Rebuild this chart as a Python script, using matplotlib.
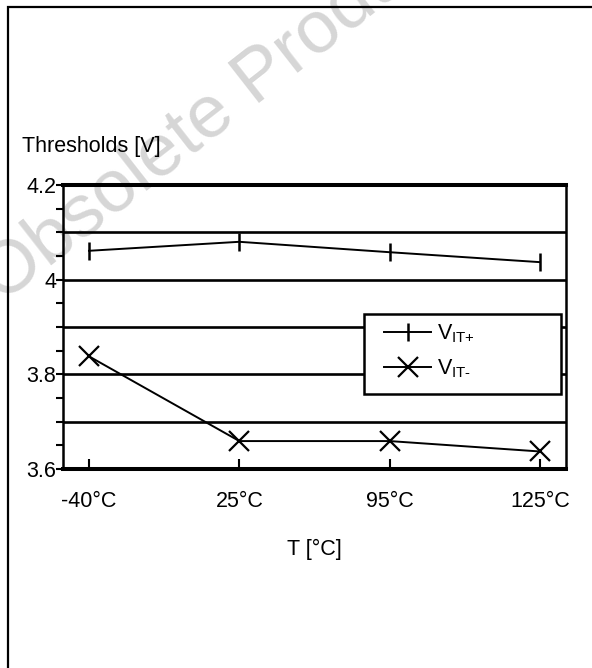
import numpy as np
import matplotlib.pyplot as plt
from matplotlib.patches import Rectangle
from matplotlib.ticker import MultipleLocator

plt.rcParams['font.family'] = ['Liberation Sans', 'DejaVu Sans']
plt.rcParams['mathtext.fontset'] = 'custom'
plt.rcParams['mathtext.rm'] = 'Liberation Sans'
plt.rcParams['mathtext.it'] = 'Liberation Sans'

# data
temps = ['-40°C', '25°C', '95°C', '125°C']
v_it_plus = [4.061, 4.080, 4.058, 4.037]
v_it_minus = [3.838, 3.659, 3.659, 3.637]
y_ticks = [3.6, 3.8, 4.0, 4.2]
y_ticklabels = ['3.6', '3.8', '4', '4.2']

W, H = 592, 668
fig = plt.figure(figsize=(W / 100, H / 100), dpi=100)

# watermark behind everything
fig.text(2 / W, 1 - 304 / H, 'Obsolete Product', fontsize=54, color='#d6d6d6',
         rotation=38, rotation_mode='anchor', ha='left', va='baseline', zorder=-5)

# outer frame (cut off by the picture edges)
fig.patches.append(Rectangle((8 / W, -0.1), 1.2, 1 - 7 / H + 0.1, transform=fig.transFigure,
                             fill=False, lw=1.6, ec='black', zorder=-1))

ax = fig.add_axes([63 / W, 1 - 469 / H, (566 - 63) / W, (469 - 185) / H])
ax.set_facecolor('none')

x = np.arange(len(temps))
for yv in [3.7, 3.8, 3.9, 4.0, 4.1]:
    ax.axhline(yv, color='black', lw=1.9, zorder=1)

ax.plot(x, v_it_plus, color='black', lw=1.4, marker='|', ms=13, mew=1.8,
        label=r'V$_{\text{IT+}}$', zorder=3)
ax.plot(x, v_it_minus, color='black', lw=1.4, marker='x', ms=14, mew=1.6,
        label=r'V$_{\text{IT-}}$', zorder=3)

ax.set_xlim(-0.173, 3.173)
ax.set_ylim(3.6, 4.2)
ax.set_xticks(x)
ax.set_xticklabels(temps, fontsize=15.5)
ax.set_yticks(y_ticks)
ax.set_yticklabels(y_ticklabels, fontsize=15.5)
ax.yaxis.set_minor_locator(MultipleLocator(0.05))
ax.tick_params(axis='y', which='both', direction='out', length=5, width=1.5, pad=0)
ax.tick_params(axis='x', direction='in', length=7, width=1.5, pad=16)

for side in ['top', 'bottom']:
    ax.spines[side].set_linewidth(2.9)
for side in ['left', 'right']:
    ax.spines[side].set_linewidth(1.8)

ax.set_xlabel('T [°C]', fontsize=15.5, labelpad=19)
fig.text(22 / W, 1 - 152 / H, 'Thresholds [V]', fontsize=15.5, ha='left', va='baseline')

# legend box drawn separately so the entries can sit where they do in the reference
ax.add_patch(Rectangle((0.598, 0.264), 0.392, 0.282, transform=ax.transAxes,
                       facecolor='white', edgecolor='black', lw=1.8, zorder=4))
leg = ax.legend(loc='center left', bbox_to_anchor=(0.638, 0.414), frameon=False,
                borderaxespad=0, borderpad=0, fontsize=15.5, handlelength=2.2,
                handletextpad=0.28, labelspacing=0.57)
leg.set_zorder(5)

fig.savefig('out.png', dpi=100)
